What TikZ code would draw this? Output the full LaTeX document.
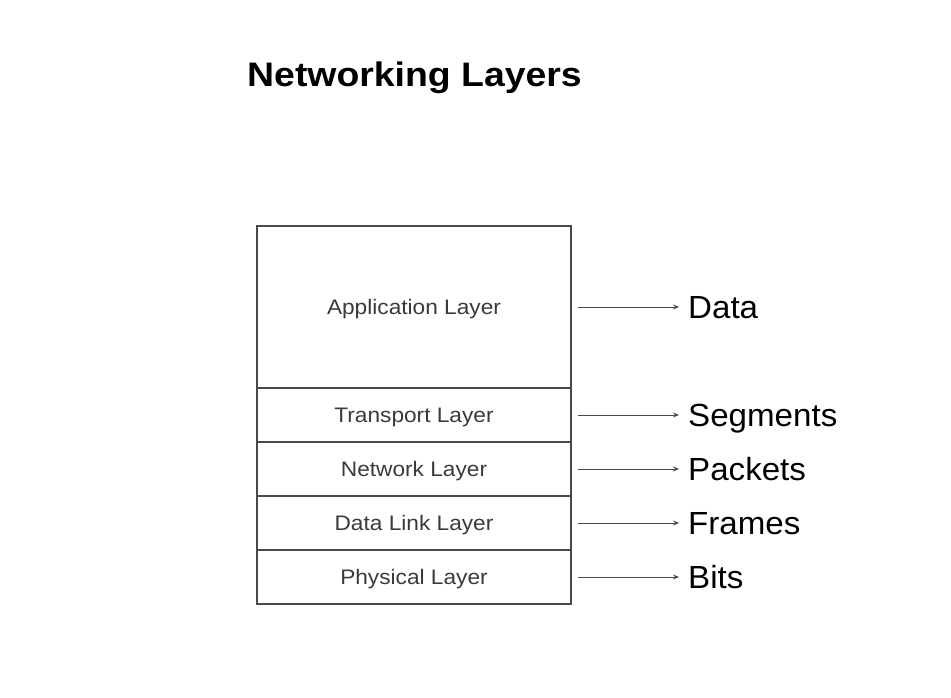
\documentclass[tikz,border=0pt]{standalone}
\usepackage{fontspec}
\setmainfont{Liberation Sans}
\usepackage{xcolor}
\usetikzlibrary{arrows.meta}

\definecolor{linegray}{HTML}{4A4A4A}
\definecolor{textgray}{HTML}{3A3A3A}

\begin{document}
\begin{tikzpicture}[x=1pt, y=-1pt,
    layer/.style={draw=linegray, line width=1.6pt, minimum width=314pt, inner sep=0pt,
      text=textgray, font=\fontsize{21}{25}\selectfont\addfontfeature{FakeStretch=1.08},
      text height=15pt, text depth=0pt},
    pdu/.style={anchor=west, inner sep=0pt,
      font=\fontsize{32}{38}\selectfont\addfontfeature{FakeStretch=1.035},
      text height=23pt, text depth=0pt},
    arrow/.style={-{Stealth[length=6pt, width=5pt]}, draw=linegray, line width=0.9pt,
      shorten <=6pt, shorten >=9pt}]

    \useasboundingbox (0,0) rectangle (951,698);

    % Draw the title
    \node[anchor=base west, inner sep=0pt,
      font=\bfseries\fontsize{34}{40}\selectfont\addfontfeature{FakeStretch=1.1}]
      (title) at (247,87) {Networking Layers};

    % Draw the stack of layers
    \node[layer, minimum height=162pt] (app) at (414,307) {Application Layer};
    \node[layer, minimum height=54pt] (transport) at (414,415) {Transport Layer};
    \node[layer, minimum height=54pt] (network) at (414,469) {Network Layer};
    \node[layer, minimum height=54pt] (datalink) at (414,523) {Data Link Layer};
    \node[layer, minimum height=54pt] (physical) at (414,577) {Physical Layer};

    % Draw the data units on the right
    \node[pdu] (data) at (688,307) {Data};
    \node[pdu] (segments) at (688,415) {Segments};
    \node[pdu] (packets) at (688,469) {Packets};
    \node[pdu] (frames) at (688,523) {Frames};
    \node[pdu] (bits) at (688,577) {Bits};

    % Draw the arrows
    \draw[arrow] (app.east) -- (data.west);
    \draw[arrow] (transport.east) -- (segments.west);
    \draw[arrow] (network.east) -- (packets.west);
    \draw[arrow] (datalink.east) -- (frames.west);
    \draw[arrow] (physical.east) -- (bits.west);

\end{tikzpicture}
\end{document}
